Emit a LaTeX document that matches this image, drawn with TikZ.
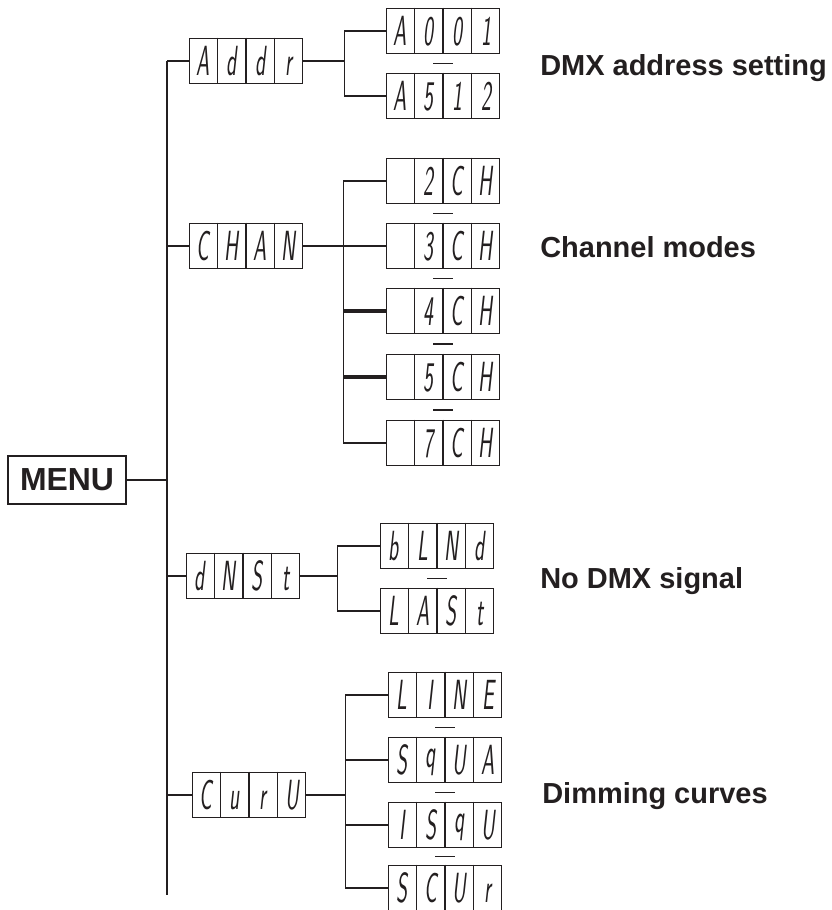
\documentclass[tikz,border=0pt]{standalone}
\usepackage{fontspec}
\setmainfont{Liberation Sans}
\usepackage{graphicx}
\usepackage{tikz}
\usetikzlibrary{calc,positioning}
\definecolor{ink}{HTML}{231F20}

% one four-digit LED display: name, centre, four characters
\newcommand{\segdisp}[6]{%
  \node[disp] (#1) at (#2) {};
  \foreach \i in {1,2,3}
    \draw[cellrule] ($(#1.north west)!\i/4!(#1.north east)$) -- ($(#1.south west)!\i/4!(#1.south east)$);
  \node[digit] (#1-a) at ($(#1.west)!0.125!(#1.east)$) {\scalebox{0.5}[1]{#3}};
  \node[digit] (#1-b) at ($(#1.west)!0.375!(#1.east)$) {\scalebox{0.5}[1]{#4}};
  \node[digit] (#1-c) at ($(#1.west)!0.625!(#1.east)$) {\scalebox{0.5}[1]{#5}};
  \node[digit] (#1-d) at ($(#1.west)!0.875!(#1.east)$) {\scalebox{0.5}[1]{#6}};
}
\newcommand{\qq}{\raisebox{5pt}{q}}

\begin{document}
\begin{tikzpicture}[x=0.025cm,y=-0.025cm,
  disp/.style={draw=ink,line width=1.1pt,minimum width=2.825cm,minimum height=1.125cm,inner sep=0pt},
  cellrule/.style={draw=ink,line width=1pt},
  digit/.style={text=ink,inner sep=0pt,font=\fontsize{30}{30}\selectfont\sffamily\slshape,text height=21pt,text depth=0pt},
  menubox/.style={draw=ink,line width=1.5pt,minimum width=2.95cm,minimum height=1.2cm,font=\fontsize{22.7}{26}\selectfont\bfseries,text=ink},
  lab/.style={anchor=base west,text=ink,font=\fontsize{20.6}{24}\selectfont\bfseries,inner sep=0pt},
  wire/.style={draw=ink,line width=1.1pt},
  heavy/.style={wire,line width=2.2pt},
  trunk/.style={wire,line width=1.5pt},
  sepbar/.style={draw=ink,line width=1.1pt}]
\useasboundingbox (0,0) rectangle (832,910);

% menu and main trunk
\node[menubox] (menu) at (67,480) {MENU};
\coordinate (ttop) at (167,61);
\coordinate (tbot) at (167,895);
\draw[trunk] (ttop) -- (tbot);
\draw[wire] (menu.east) -- (menu.east -| ttop);

% first level
\segdisp{addr}{246,61}{A}{d}{d}{r}
\segdisp{chan}{246,246}{C}{H}{A}{N}
\segdisp{dnst}{243,576}{d}{N}{S}{t}
\segdisp{curv}{249,795}{C}{u}{r}{U}
\foreach \n in {addr,chan,dnst,curv}
  \draw[wire] (ttop |- \n.west) -- (\n.west);

% address
\segdisp{a001}{443,31}{A}{0}{0}{1}
\segdisp{a512}{443,96}{A}{5}{1}{2}
\coordinate (addrbus) at ($(a001.west)+(-41,0)$);
\draw[wire] (a001.west) -- (addrbus) |- (a512.west);
\draw[wire] (addr.east) -- (addr.east -| addrbus);
\draw[sepbar] ($(a001.south)!0.5!(a512.north)$) +(-10,0) -- +(10,0);

% channel modes
\segdisp{ch2}{443,181}{}{2}{C}{H}
\segdisp{ch3}{443,246}{}{3}{C}{H}
\segdisp{ch4}{443,311}{}{4}{C}{H}
\segdisp{ch5}{443,377}{}{5}{C}{H}
\segdisp{ch7}{443,443}{}{7}{C}{H}
\coordinate (chanbus) at ($(ch2.west)+(-42,0)$);
\draw[wire] (ch2.west) -- (chanbus) |- (ch7.west);
\draw[wire] (chan.east) -- (ch3.west);
\draw[heavy] (ch4.west) -- (ch4.west -| chanbus);
\draw[heavy] (ch5.west) -- (ch5.west -| chanbus);
\foreach \p/\q in {ch2/ch3,ch3/ch4,ch4/ch5,ch5/ch7}
  \draw[sepbar] ($(\p.south)!0.5!(\q.north)$) +(-10,0) -- +(10,0);

% no dmx signal
\segdisp{blnd}{437,546}{b}{L}{N}{d}
\segdisp{last}{437,611}{L}{A}{S}{t}
\coordinate (dnstbus) at ($(blnd.west)+(-42,0)$);
\draw[wire] (blnd.west) -- (dnstbus) |- (last.west);
\draw[wire] (dnst.east) -- (dnst.east -| dnstbus);
\draw[sepbar] ($(blnd.south)!0.5!(last.north)$) +(-10,0) -- +(10,0);

% dimming curves
\segdisp{line}{445,695}{L}{I}{N}{E}
\segdisp{squa}{445,760}{S}{\qq}{U}{A}
\segdisp{isqu}{445,825}{I}{S}{\qq}{U}
\segdisp{scur}{445,888}{S}{C}{U}{r}
\coordinate (curvbus) at ($(line.west)+(-42,0)$);
\draw[wire] (line.west) -- (curvbus) |- (scur.west);
\draw[wire] (curv.east) -- (curv.east -| curvbus);
\draw[wire] (squa.west) -- (squa.west -| curvbus);
\draw[wire] (isqu.west) -- (isqu.west -| curvbus);
\foreach \p/\q in {line/squa,squa/isqu,isqu/scur}
  \draw[sepbar] ($(\p.south)!0.5!(\q.north)$) +(-10,0) -- +(10,0);

% captions
\node[lab] (labaddr) at (540,75) {DMX address setting};
\node[lab] (labchan) at (540,257) {Channel modes};
\node[lab] (labdnst) at (540,588) {No DMX signal};
\node[lab] (labcurv) at (542,803) {Dimming curves};
\end{tikzpicture}
\end{document}
